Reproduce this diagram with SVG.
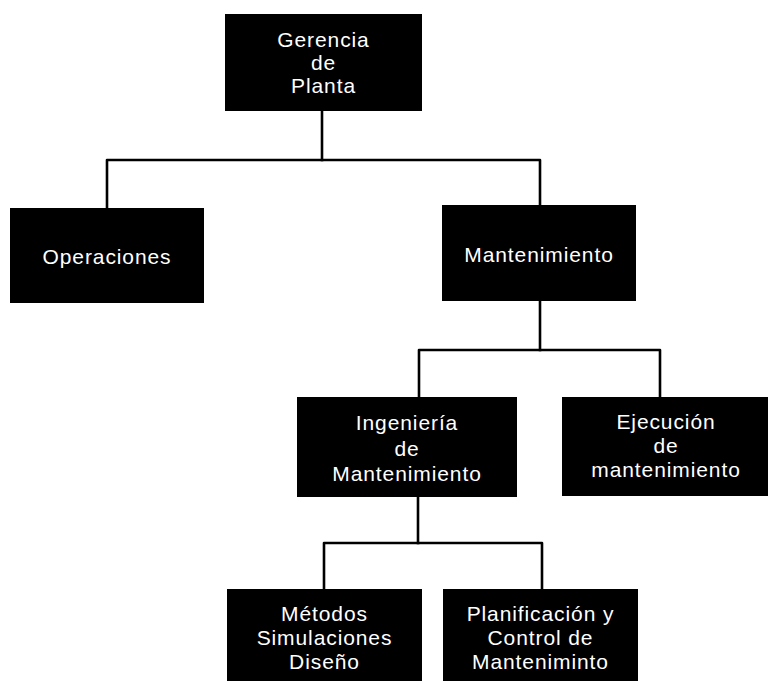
<svg xmlns="http://www.w3.org/2000/svg" width="771" height="682" viewBox="0 0 771 682">
  <style>
    .box { fill: #000; }
    .lbl { fill: #fff; font-family: "Liberation Sans", Arial, sans-serif; font-size: 21px; letter-spacing: 0.9px; text-anchor: middle; }
    .link { fill: none; stroke: #000; stroke-width: 2.6; stroke-linejoin: round; stroke-linecap: square; }
  </style>
  <rect width="771" height="682" fill="#fff"/>

  <!-- connectors -->
  <g id="connectors">
    <path class="link" d="M322 111 V160"/>
    <path class="link" d="M107 208 V160 H540 V205"/>
    <path class="link" d="M540 301 V350"/>
    <path class="link" d="M419 397 V350 H660 V397"/>
    <path class="link" d="M418 497 V543"/>
    <path class="link" d="M324 589 V543 H542 V589"/>
  </g>

  <g id="gerencia">
    <rect class="box" x="225" y="14" width="197" height="97"/>
    <text class="lbl" x="323.5" y="47">Gerencia</text>
    <text class="lbl" x="323.5" y="70">de</text>
    <text class="lbl" x="323.5" y="93">Planta</text>
  </g>

  <g id="operaciones">
    <rect class="box" x="10" y="208" width="194" height="95"/>
    <text class="lbl" x="107" y="264">Operaciones</text>
  </g>

  <g id="mantenimiento">
    <rect class="box" x="442" y="205" width="194" height="96"/>
    <text class="lbl" x="539" y="262">Mantenimiento</text>
  </g>

  <g id="ingenieria">
    <rect class="box" x="297" y="397" width="220" height="100"/>
    <text class="lbl" x="407" y="430">Ingeniería</text>
    <text class="lbl" x="407" y="456">de</text>
    <text class="lbl" x="407" y="481">Mantenimiento</text>
  </g>

  <g id="ejecucion">
    <rect class="box" x="562" y="397" width="206" height="99"/>
    <text class="lbl" x="666" y="428.5">Ejecución</text>
    <text class="lbl" x="666" y="453">de</text>
    <text class="lbl" x="666" y="477">mantenimiento</text>
  </g>

  <g id="metodos">
    <rect class="box" x="227" y="589" width="195" height="92"/>
    <text class="lbl" x="324.5" y="621">Métodos</text>
    <text class="lbl" x="324.5" y="645">Simulaciones</text>
    <text class="lbl" x="324.5" y="669">Diseño</text>
  </g>

  <g id="planificacion">
    <rect class="box" x="443" y="589" width="195" height="92"/>
    <text class="lbl" x="540.5" y="621">Planificación y</text>
    <text class="lbl" x="540.5" y="645">Control de</text>
    <text class="lbl" x="540.5" y="669">Manteniminto</text>
  </g>
</svg>
